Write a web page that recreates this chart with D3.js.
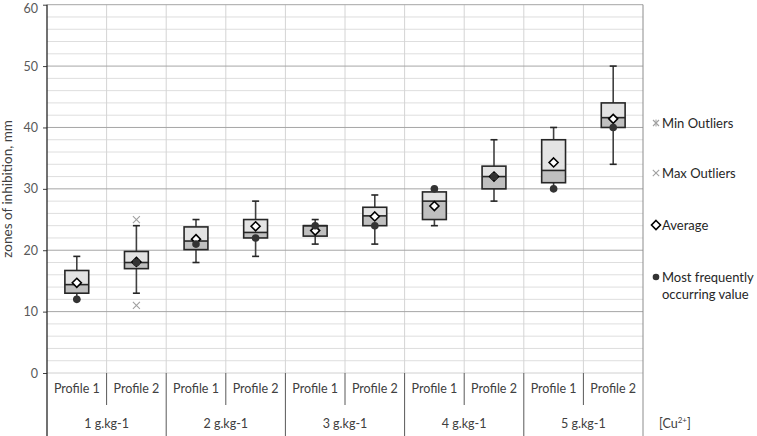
<!DOCTYPE html>
<html>
<head>
<meta charset="utf-8">
<script src="https://cdn.jsdelivr.net/npm/d3@7"></script>
<style>
  body { margin: 0; background: #fff; }
  svg text { font-family: Lato, "Open Sans", sans-serif; }
</style>
</head>
<body>
<div id="chart"></div>
<script>
// data
let groups = ["1 g.kg-1", "2 g.kg-1", "3 g.kg-1", "4 g.kg-1", "5 g.kg-1"];
let profiles = ["Profile 1", "Profile 2"];
let whiskerMin = [12, 13, 18, 19, 21, 21, 24, 28, 30, 34];
let q1         = [13, 17, 20.1, 22, 22.3, 24, 25, 30, 31, 40];
let median     = [14.4, 18, 21.5, 22.9, 24, 25.6, 28, 32, 33, 41.6];
let q3         = [16.7, 19.8, 23.8, 25, 24, 27, 29.5, 33.7, 38, 44];
let whiskerMax = [19, 24, 25, 28, 25, 29, 30, 38, 40, 50];
let means      = [14.7, 18.1, 21.8, 23.9, 23.2, 25.5, 27.2, 32, 34.3, 41.4];
let modes      = [12, 18, 21, 22, 24, 24, 30, 32, 30, 40];
let maxOutliers = [[], [25], [], [], [], [], [], [], [], []];
let minOutliers = [[], [11], [], [], [], [], [], [], [], []];
let yTicks = [0, 10, 20, 30, 40, 50, 60];

// flat list of categories
let cats = [];
groups.forEach(function(g, gi) {
    profiles.forEach(function(p, pi) {
        cats.push({group: g, profile: p, i: gi * 2 + pi});
    });
});

let W = 757, H = 436;
let plotLeft = 47, plotRight = 643, plotTop = 4.7, plotBottom = 373;

let x = d3.scaleBand()
    .domain(cats.map(function(d) { return d.i; }))
    .range([plotLeft, plotRight]);
let y = d3.scaleLinear()
    .domain([0, 60])
    .range([plotBottom, plotTop]);

let svg = d3.select("#chart").append("svg")
    .attr("width", W)
    .attr("height", H);

// minor gridlines every 2
let minor = d3.range(2, 60, 2).filter(function(v) { return v % 10 !== 0; });
svg.append("g").selectAll("line")
    .data(minor)
    .enter().append("line")
    .attr("x1", plotLeft).attr("x2", plotRight)
    .attr("y1", function(d) { return y(d); })
    .attr("y2", function(d) { return y(d); })
    .attr("stroke", "#dedede")
    .attr("stroke-width", 1);

// vertical gridlines at category bounds
svg.append("g").selectAll("line")
    .data(cats.slice(1))
    .enter().append("line")
    .attr("x1", function(d) { return x(d.i); })
    .attr("x2", function(d) { return x(d.i); })
    .attr("y1", plotTop).attr("y2", plotBottom)
    .attr("stroke", "#d4d4d4");

// major gridlines
svg.append("g").selectAll("line")
    .data(yTicks.filter(function(d) { return d > 0; }))
    .enter().append("line")
    .attr("x1", plotLeft).attr("x2", plotRight)
    .attr("y1", function(d) { return y(d); })
    .attr("y2", function(d) { return y(d); })
    .attr("stroke", "#a6a6a6");

// zero line
svg.append("line")
    .attr("x1", plotLeft).attr("x2", plotRight)
    .attr("y1", y(0)).attr("y2", y(0))
    .attr("stroke", "#d0d0d0");

// y axis
let yAxis = svg.append("g")
    .attr("transform", "translate(" + plotLeft + ",0)")
    .call(d3.axisLeft(y).tickValues(yTicks).tickSize(4).tickPadding(5));
yAxis.select(".domain").remove();
yAxis.selectAll(".tick line").attr("stroke", "#404040");
yAxis.selectAll(".tick text")
    .attr("fill", "#595959")
    .attr("dy", function(d) { return d === 60 ? "0.62em" : "0.32em"; })
    .style("font-size", "12.5px")
    .style("font-family", "Lato, 'Open Sans', sans-serif");
svg.append("line")
    .attr("x1", plotLeft).attr("x2", plotLeft)
    .attr("y1", plotTop).attr("y2", H)
    .attr("stroke", "#262626").attr("stroke-width", 1.3);

// right border, runs to the bottom
svg.append("line")
    .attr("x1", plotRight).attr("x2", plotRight)
    .attr("y1", plotTop).attr("y2", H)
    .attr("stroke", "#8c8c8c");

// y label
svg.append("text")
    .attr("transform", "rotate(-90)")
    .attr("x", -(plotTop + plotBottom) / 2)
    .attr("y", 12)
    .style("text-anchor", "middle")
    .style("font-size", "13.5px")
    .attr("fill", "#404040")
    .text("zones of inhibition, mm");

// category axis separators
svg.append("g").selectAll("line")
    .data(cats.slice(1))
    .enter().append("line")
    .attr("x1", function(d) { return x(d.i); })
    .attr("x2", function(d) { return x(d.i); })
    .attr("y1", plotBottom)
    .attr("y2", function(d) { return d.i % 2 === 0 ? H : 405; })
    .attr("stroke", "#595959");

svg.append("g").selectAll("text")
    .data(cats)
    .enter().append("text")
    .attr("x", function(d) { return x(d.i) + x.bandwidth() / 2; })
    .attr("y", 393)
    .style("text-anchor", "middle")
    .style("font-size", "12.5px")
    .attr("fill", "#404040")
    .text(function(d) { return d.profile; });

svg.append("g").selectAll("text")
    .data(groups)
    .enter().append("text")
    .attr("x", function(d, gi) { return x(gi * 2) + x.bandwidth(); })
    .attr("y", 428)
    .style("text-anchor", "middle")
    .style("font-size", "12.5px")
    .attr("fill", "#404040")
    .text(function(d) { return d; });

let cu = svg.append("text")
    .attr("x", 659)
    .attr("y", 428)
    .style("font-size", "12.5px")
    .attr("fill", "#404040");
cu.append("tspan").text("[Cu");
cu.append("tspan").attr("dy", -5).style("font-size", "8px").text("2+");
cu.append("tspan").attr("dy", 5).text("]");

// boxes
let bw = x.bandwidth() * 0.4;
let cx = function(i) { return x(i) + x.bandwidth() / 2; };
let boxes = svg.append("g").selectAll("g")
    .data(cats)
    .enter().append("g");

// whiskers
boxes.append("line")
    .attr("x1", function(d) { return cx(d.i); })
    .attr("x2", function(d) { return cx(d.i); })
    .attr("y1", function(d) { return y(whiskerMax[d.i]); })
    .attr("y2", function(d) { return y(q3[d.i]); })
    .attr("stroke", "#404040").attr("stroke-width", 1.6);
boxes.append("line")
    .attr("x1", function(d) { return cx(d.i); })
    .attr("x2", function(d) { return cx(d.i); })
    .attr("y1", function(d) { return y(q1[d.i]); })
    .attr("y2", function(d) { return y(whiskerMin[d.i]); })
    .attr("stroke", "#404040").attr("stroke-width", 1.6);
[whiskerMax, whiskerMin].forEach(function(arr) {
    boxes.append("line")
        .attr("x1", function(d) { return cx(d.i) - 3.5; })
        .attr("x2", function(d) { return cx(d.i) + 3.5; })
        .attr("y1", function(d) { return y(arr[d.i]); })
        .attr("y2", function(d) { return y(arr[d.i]); })
        .attr("stroke", "#262626").attr("stroke-width", 1.6);
});

// upper half (median to q3)
boxes.append("rect")
    .attr("x", function(d) { return cx(d.i) - bw / 2; })
    .attr("width", bw)
    .attr("y", function(d) { return y(q3[d.i]); })
    .attr("height", function(d) { return y(median[d.i]) - y(q3[d.i]); })
    .attr("fill", "#e3e3e3");
// lower half (q1 to median)
boxes.append("rect")
    .attr("x", function(d) { return cx(d.i) - bw / 2; })
    .attr("width", bw)
    .attr("y", function(d) { return y(median[d.i]); })
    .attr("height", function(d) { return y(q1[d.i]) - y(median[d.i]); })
    .attr("fill", "#bfbfbf");
// outline
boxes.append("rect")
    .attr("x", function(d) { return cx(d.i) - bw / 2; })
    .attr("width", bw)
    .attr("y", function(d) { return y(q3[d.i]); })
    .attr("height", function(d) { return y(q1[d.i]) - y(q3[d.i]); })
    .attr("fill", "none")
    .attr("stroke", "#262626").attr("stroke-width", 1.6);
boxes.append("line")
    .attr("x1", function(d) { return cx(d.i) - bw / 2; })
    .attr("x2", function(d) { return cx(d.i) + bw / 2; })
    .attr("y1", function(d) { return y(median[d.i]); })
    .attr("y2", function(d) { return y(median[d.i]); })
    .attr("stroke", "#262626").attr("stroke-width", 1.6);

// diamond for mean
let diamond = "M0,-4.5L4.5,0L0,4.5L-4.5,0Z";
boxes.append("path")
    .attr("d", diamond)
    .attr("transform", function(d) { return "translate(" + cx(d.i) + "," + y(means[d.i]) + ")"; })
    .attr("fill", "#fff")
    .attr("stroke", "#000").attr("stroke-width", 1.6);

// mode dot
boxes.append("circle")
    .attr("cx", function(d) { return cx(d.i); })
    .attr("cy", function(d) { return y(modes[d.i]); })
    .attr("r", 3.8)
    .attr("fill", "#333");

// outliers
function xMark(sel, px, py, s) {
    sel.append("path")
        .attr("d", "M" + (px - s) + "," + (py - s) + "L" + (px + s) + "," + (py + s) +
            "M" + (px - s) + "," + (py + s) + "L" + (px + s) + "," + (py - s))
        .attr("stroke", "#a0a0a0").attr("stroke-width", 1.1).attr("fill", "none");
}
cats.forEach(function(d) {
    maxOutliers[d.i].concat(minOutliers[d.i]).forEach(function(v) {
        xMark(svg, cx(d.i), y(v), 3.5);
    });
});

// legend
let lg = svg.append("g");
let lx = 656;
// min outliers: star
xMark(lg, lx, 123, 3);
lg.append("line").attr("x1", lx).attr("x2", lx).attr("y1", 119.5).attr("y2", 126.5)
    .attr("stroke", "#a0a0a0").attr("stroke-width", 1);
xMark(lg, lx, 173, 3.2);
lg.append("path").attr("d", diamond)
    .attr("transform", "translate(" + lx + ",225)")
    .attr("fill", "#fff").attr("stroke", "#000").attr("stroke-width", 1.6);
lg.append("circle").attr("cx", lx).attr("cy", 277).attr("r", 3.3).attr("fill", "#333");

let legendText = [["Min Outliers", 127.5], ["Max Outliers", 177.5], ["Average", 229.5],
    ["Most frequently", 281.5], ["occurring value", 298.5]];
lg.selectAll("text")
    .data(legendText)
    .enter().append("text")
    .attr("x", 662)
    .attr("y", function(d) { return d[1]; })
    .style("font-size", "13px")
    .attr("fill", "#262626")
    .text(function(d) { return d[0]; });
</script>
</body>
</html>
